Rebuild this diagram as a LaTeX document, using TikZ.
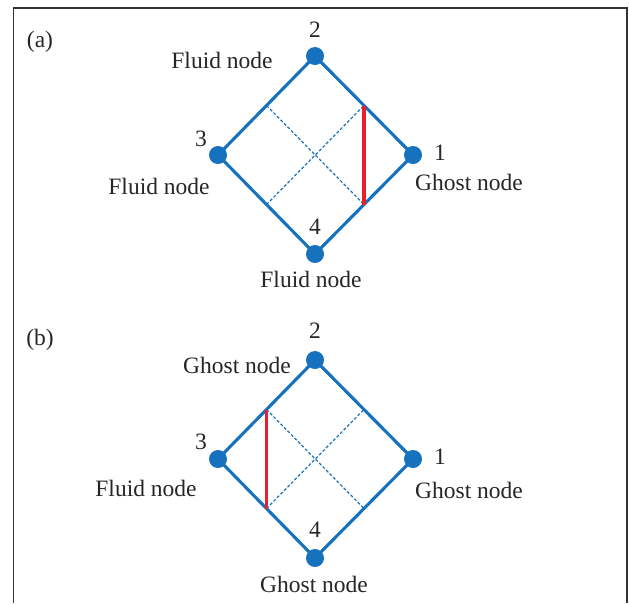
\documentclass[tikz,border=0pt]{standalone}
\usepackage{fontspec}
\setmainfont{Liberation Serif}
\usetikzlibrary{calc}
\definecolor{nodeblue}{HTML}{1772BD}
\definecolor{edgered}{HTML}{E8202A}
\definecolor{framegray}{HTML}{333333}
\begin{document}
\begin{tikzpicture}[x=1pt,y=-1pt,
  lbl/.style={font=\fontsize{23.5}{26}\selectfont, text=black!85, inner sep=0pt},
  dot/.style={circle, fill=nodeblue, minimum size=18pt, inner sep=0pt},
  edge/.style={nodeblue, line width=3.1pt},
  guide/.style={nodeblue, line width=1.2pt, dash pattern=on 3pt off 2pt},
  wall/.style={edgered, line width=3.3pt}]
\useasboundingbox (0,0) rectangle (629,603);
\draw[framegray, line width=1.5pt] (13.5,603) coordinate (fbl) -- (13.5,8) coordinate (ftl) -- (627,8) coordinate (ftr) -- (627,603) coordinate (fbr);

% ---------- (a) ----------
\node[lbl] (la) at (40,42) {(a)};
\node[dot] (a2) at (315,56) {};
\node[dot] (a3) at (218,155) {};
\node[dot] (a1) at (413,155) {};
\node[dot] (a4) at (315,254) {};
\draw[edge] (a2.center) -- (a1.center) -- (a4.center) -- (a3.center) -- cycle;
\coordinate (a23) at ($(a2.center)!0.5!(a3.center)$);
\coordinate (a21) at ($(a2.center)!0.5!(a1.center)$);
\coordinate (a14) at ($(a1.center)!0.5!(a4.center)$);
\coordinate (a34) at ($(a3.center)!0.5!(a4.center)$);
\draw[guide] (a23) -- (a14);
\draw[guide] (a34) -- (a21);
\draw[wall] (a21) -- (a14);
\node[lbl] (a2n) at (315,30) {2};
\node[lbl] (a2t) at (222,60) {Fluid node};
\node[lbl] (a3n) at (201,139) {3};
\node[lbl] (a3t) at (159,186) {Fluid node};
\node[lbl] (a1n) at (440,153) {1};
\node[lbl] (a1t) at (469,182) {Ghost node};
\node[lbl] (a4n) at (315,227) {4};
\node[lbl] (a4t) at (311,279) {Fluid node};

% ---------- (b) ----------
\node[lbl] (lb) at (40,340) {(b)};
\node[dot] (b2) at (315,360) {};
\node[dot] (b3) at (218,459) {};
\node[dot] (b1) at (413,459) {};
\node[dot] (b4) at (315,558) {};
\draw[edge] (b2.center) -- (b1.center) -- (b4.center) -- (b3.center) -- cycle;
\coordinate (b23) at ($(b2.center)!0.5!(b3.center)$);
\coordinate (b21) at ($(b2.center)!0.5!(b1.center)$);
\coordinate (b14) at ($(b1.center)!0.5!(b4.center)$);
\coordinate (b34) at ($(b3.center)!0.5!(b4.center)$);
\draw[guide] (b23) -- (b14);
\draw[guide] (b34) -- (b21);
\draw[wall] (b23) -- (b34);
\node[lbl] (b2n) at (315,331) {2};
\node[lbl] (b2t) at (237,365) {Ghost node};
\node[lbl] (b3n) at (201,442) {3};
\node[lbl] (b3t) at (146,488) {Fluid node};
\node[lbl] (b1n) at (440,457) {1};
\node[lbl] (b1t) at (469,490) {Ghost node};
\node[lbl] (b4n) at (315,530) {4};
\node[lbl] (b4t) at (314,584) {Ghost node};
\end{tikzpicture}
\end{document}
